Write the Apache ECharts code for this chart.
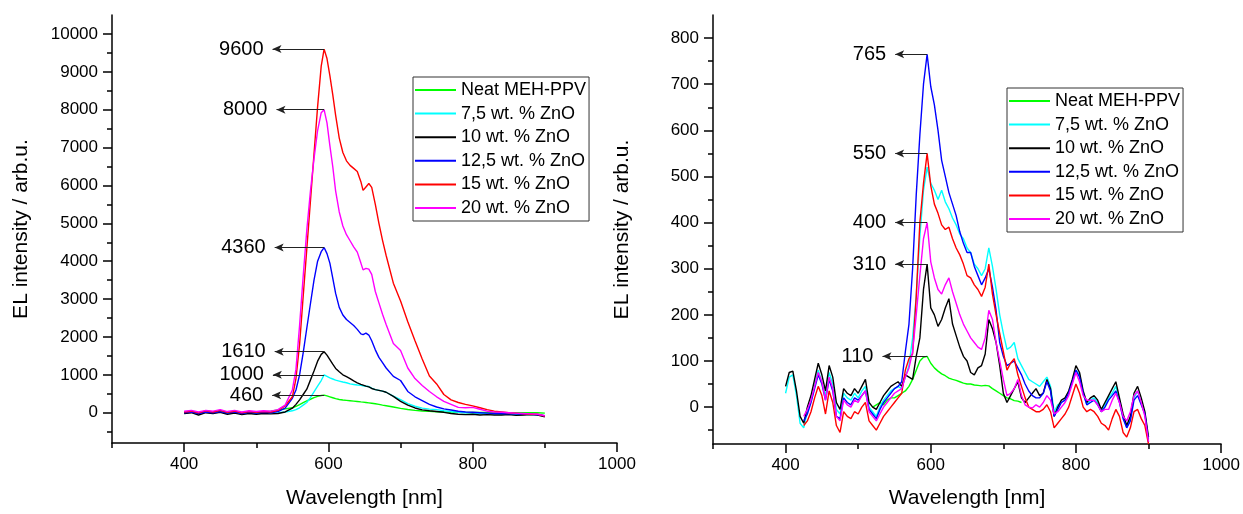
<!DOCTYPE html>
<html>
<head>
<meta charset="utf-8">
<script src="https://cdn.jsdelivr.net/npm/echarts@6/dist/echarts.min.js"></script>
<style>
html,body{margin:0;padding:0;background:#fff;}
#c{width:1243px;height:514px;}
</style>
</head>
<body>
<div id="c"></div>
<script>
// ---------------- DATA ----------------
const SERIES_NAMES = ['Neat MEH-PPV', '7,5 wt. % ZnO', '10 wt. % ZnO', '12,5 wt. % ZnO', '15 wt. % ZnO', '20 wt. % ZnO'];

// Left panel wavelengths (nm)
const L_WL = [400,410,420,430,440,450,460,470,480,490,500,510,520,530,540,550,
  555,560,565,570,575,580,585,590,
  594,598,602,606,610,
  615,620,625,630,635,640,645,
  648,652,656,660,
  665,670,675,680,
  690,700,710,720,730,740,750,760,770,780,790,800,810,820,830,840,850,860,870,880,890,900];

const L_NEAT = [10,30,-10,30,10,40,0,30,-10,20,0,20,40,70,100,130,
  170,215,265,310,355,400,430,455,
  463,445,420,395,370,
  350,335,325,315,305,295,285,
  280,270,260,250,
  235,220,200,185,
  150,115,85,60,45,35,25,20,15,10,5,5,5,5,0,0,0,0,0,0,0,-10];

const L_ZNO75 = [0,20,-30,20,0,30,-20,10,-30,0,-20,0,-10,0,20,50,
  80,130,200,270,400,550,700,850,
  1000,960,920,890,860,
  835,810,790,760,745,730,720,
  710,700,690,650,
  610,590,570,540,
  440,345,240,170,120,95,80,50,30,10,0,-10,-20,-30,-30,-40,-40,-50,-50,-40,-50,-90];

const L_ZNO10 = [-20,0,-60,0,-20,10,-40,-10,-50,-20,-40,-20,-30,-20,20,120,
  220,340,480,620,860,1100,1360,1540,
  1610,1520,1400,1280,1170,
  1080,1000,950,900,840,790,750,
  730,700,680,640,
  610,590,570,540,
  430,300,200,125,75,50,30,10,-20,-40,-50,-40,-60,-50,-60,-60,-50,-70,-60,-50,-60,-110];

const L_ZNO125 = [0,20,-20,20,0,30,-10,20,-20,10,-10,10,0,30,120,380,
  600,1000,1580,2230,2870,3500,4000,4250,
  4360,4200,3950,3550,3150,
  2780,2580,2460,2380,2300,2200,2080,
  2060,2100,2050,1900,
  1660,1460,1320,1180,
  960,850,560,420,320,220,150,100,70,40,20,10,0,-10,-20,-20,-30,-30,-40,-40,-50,-80];

const L_ZNO15 = [20,40,0,50,20,60,10,40,0,30,10,30,20,60,180,420,
  900,1800,3070,4320,5570,6830,8080,9150,
  9600,9350,8900,8400,7850,
  7250,6870,6650,6530,6450,6370,6100,
  5870,5960,6050,5950,
  5500,5000,4550,4150,
  3420,2950,2400,1900,1420,970,760,480,340,270,220,180,130,80,40,20,0,-10,-30,-40,-40,-90];

const L_ZNO20 = [40,60,20,60,40,80,30,60,20,50,30,50,40,80,200,600,
  1150,2300,3600,4820,5840,6710,7450,7920,
  8000,7650,7050,6500,5850,
  5300,4930,4700,4540,4380,4240,3950,
  3770,3810,3790,3650,
  3200,2900,2600,2330,
  1830,1640,1180,900,720,560,420,300,220,140,130,140,90,40,20,10,0,-10,-20,-30,-40,-80];

// Right panel wavelengths (nm)
const R_WL = [400,405,410,415,420,425,430,435,440,445,450,455,460,465,470,475,480,485,490,495,
  500,505,510,515,520,525,530,535,540,545,550,555,560,565,570,575,580,585,590,595,
  600,605,610,615,620,625,630,635,640,645,650,655,660,665,670,675,680,685,690,695,
  700,705,710,715,720,725,730,735,740,745,750,755,760,765,770,775,780,785,790,795,
  800,805,810,815,820,825,830,835,840,845,850,855,860,865,870,875,880,885,890,895,900];

const R_NEAT = [null,null,null,null,null,null,null,null,null,null,null,null,null,null,null,null,null,null,null,null,
  null,null,null,null,0,5,10,5,15,20,20,25,30,35,45,60,80,100,108,110,
  95,85,78,72,68,63,60,58,55,52,50,50,48,47,46,47,46,40,35,30,
  25,20,18,14,13,10,null,null,null,null,null,null,null,null,null,null,null,null,null,null,
  null,null,null,null,null,null,null,null,null,null,null,null,null,null,null,null,null,null,null,null,null];

const R_ZNO75 = [30,65,70,25,-35,-45,-10,15,50,80,55,25,75,50,-5,-15,30,20,15,30,
  20,35,45,0,-10,-20,0,15,25,35,40,45,40,65,90,150,240,370,470,520,
  485,470,450,470,445,430,410,395,375,365,345,335,310,300,285,300,345,305,255,200,
  160,125,130,140,105,90,75,60,55,50,45,55,65,45,-10,5,10,15,30,55,
  80,70,30,5,15,20,10,-10,5,20,30,45,15,-20,-45,-25,20,35,10,-15,-70];

const R_ZNO10 = [45,75,78,35,-20,-35,0,25,60,95,70,35,90,65,10,-5,40,30,25,40,
  30,45,60,10,0,-5,10,25,35,45,50,55,45,70,65,60,110,150,255,310,
  215,200,175,190,215,235,180,155,130,110,100,75,70,85,90,115,190,170,140,90,
  30,10,25,40,55,20,10,20,30,40,25,30,60,40,-20,0,15,20,35,60,
  90,75,35,10,20,25,15,-5,10,25,40,55,20,-15,-40,-20,30,45,20,-10,-65];

const R_ZNO125 = [null,null,null,null,null,-30,-15,10,40,70,50,15,60,35,-20,-25,20,10,5,20,
  15,25,35,-5,-15,-25,-5,10,20,30,40,45,55,120,180,300,460,590,700,765,
  695,655,600,535,500,465,440,415,380,355,335,335,305,285,265,280,300,260,210,140,
  110,90,95,100,85,70,50,35,25,20,20,30,55,35,-20,-5,10,15,30,55,
  80,65,30,5,10,15,5,-10,0,15,25,35,10,-25,-45,-30,15,25,5,-15,-75];

const R_ZNO15 = [null,null,null,null,null,-40,-30,-10,20,45,25,-15,35,10,-40,-55,-10,-20,-25,-10,
  -15,0,10,-30,-40,-50,-35,-20,-10,0,10,20,30,80,105,115,240,400,485,550,
  480,440,420,395,385,390,365,345,330,310,285,280,265,255,240,260,310,245,200,160,
  120,80,95,105,70,45,20,0,-5,-10,-10,-5,5,-10,-45,-35,-25,-15,0,25,
  50,30,0,-10,-5,-10,-20,-35,-40,-50,-25,-5,-20,-55,-65,-45,-10,-5,-25,-40,-80];

const R_ZNO20 = [null,null,null,null,null,-20,-5,15,45,75,55,15,65,40,-20,-30,15,5,0,15,
  10,25,35,-10,-20,-30,-15,0,10,20,30,35,40,65,85,120,200,285,365,400,
  315,280,255,245,265,280,250,225,200,180,165,150,140,130,125,150,210,190,140,100,
  60,25,30,40,60,25,5,0,-2,5,0,10,25,15,-15,-10,0,10,25,50,
  75,55,25,15,15,15,5,-10,-5,-5,15,30,10,-20,-30,-10,25,35,10,-20,-75];

// Axis ticks / labels
const L_Y_LABELS = [0,1000,2000,3000,4000,5000,6000,7000,8000,9000,10000];
const L_Y_MINOR = [-500,500,1500,2500,3500,4500,5500,6500,7500,8500,9500];
const R_Y_LABELS = [0,100,200,300,400,500,600,700,800];
const R_Y_MINOR = [-50,50,150,250,350,450,550,650,750];
const X_LABELS = [400,600,800,1000];
const X_MINOR = [300,500,700,900];

// Peak annotation values (arrow labels)
const L_PEAK_LABELS = [460, 1000, 1610, 4360, 9600, 8000];
const R_PEAK_LABELS = [110, null, 310, 765, 550, 400];

// ---------------- LAYOUT / STYLE ----------------
const FONT = 'Liberation Sans, Arial, sans-serif';
const COLORS = ['#00ff00', '#00ffff', '#000000', '#0000ff', '#ff0000', '#ff00ff'];
const L_TIP = [522, 523, 525.5, 525.5, 522.5, 528];
const R_TIP = [533.5, 551, 551, 551, 551, 551];

function pairs(wl, vals) {
  const out = [];
  for (let i = 0; i < wl.length; i++) {
    if (vals[i] !== null && vals[i] !== undefined) out.push([wl[i], vals[i]]);
  }
  return out;
}
function peakX(wl, vals) {
  let bi = -1;
  for (let i = 0; i < vals.length; i++) {
    if (vals[i] === null) continue;
    if (bi < 0 || vals[i] > vals[bi]) bi = i;
  }
  return wl[bi];
}
function arrowMark(label, px, tipX) {
  if (label === null) return undefined;
  return {
    silent: true,
    animation: false,
    symbol: ['none', 'arrow'],
    symbolSize: [6, 9],
    lineStyle: { color: '#222', width: 1, type: 'solid' },
    label: { show: true, position: 'end', formatter: String(label), fontSize: 20, color: '#000', fontFamily: FONT, distance: 9 },
    emphasis: { disabled: true },
    data: [[{ coord: [px, label] }, { coord: [tipX, label] }]]
  };
}

const L_SETS = [L_NEAT, L_ZNO75, L_ZNO10, L_ZNO125, L_ZNO15, L_ZNO20];
const R_SETS = [R_NEAT, R_ZNO75, R_ZNO10, R_ZNO125, R_ZNO15, R_ZNO20];

const series = [];
L_SETS.forEach((vals, i) => {
  series.push({
    name: SERIES_NAMES[i], type: 'line', xAxisIndex: 0, yAxisIndex: 0,
    data: pairs(L_WL, vals), showSymbol: false, symbol: 'none',
    lineStyle: { color: COLORS[i], width: 1.4 }, itemStyle: { color: COLORS[i] },
    animation: false, silent: true,
    markLine: arrowMark(L_PEAK_LABELS[i], peakX(L_WL, vals), L_TIP[i])
  });
});
R_SETS.forEach((vals, i) => {
  series.push({
    name: SERIES_NAMES[i], type: 'line', xAxisIndex: 2, yAxisIndex: 2,
    data: pairs(R_WL, vals), showSymbol: false, symbol: 'none',
    lineStyle: { color: COLORS[i], width: 1.4 }, itemStyle: { color: COLORS[i] },
    animation: false, silent: true,
    markLine: arrowMark(R_PEAK_LABELS[i], peakX(R_WL, vals), R_TIP[i])
  });
});

const AX_LINE = { show: true, onZero: false, lineStyle: { color: '#000', width: 1.5 } };
const LABEL = { fontSize: 17, color: '#000', fontFamily: FONT, formatter: function (v) { return String(v); } };
const NAME_STYLE = { fontSize: 21, color: '#000', fontFamily: FONT };

function xMain(grid, nameGap) {
  return {
    gridIndex: grid, type: 'value', position: 'bottom', min: 300, max: 1000,
    axisLine: AX_LINE,
    axisTick: { show: true, inside: false, length: 9, lineStyle: { color: '#000', width: 1.5 }, customValues: X_LABELS },
    axisLabel: Object.assign({ margin: 13, customValues: X_LABELS }, LABEL),
    splitLine: { show: false },
    name: 'Wavelength [nm]', nameLocation: 'middle', nameGap: nameGap, nameTextStyle: NAME_STYLE
  };
}
function xMinor(grid) {
  return {
    gridIndex: grid, type: 'value', position: 'bottom', min: 300, max: 1000,
    axisLine: { show: false, onZero: false },
    axisTick: { show: true, inside: false, length: 5, lineStyle: { color: '#000', width: 1.5 }, customValues: X_MINOR },
    axisLabel: { show: false }, splitLine: { show: false }
  };
}
function yMain(grid, min, max, labels) {
  return {
    gridIndex: grid, type: 'value', position: 'left', min: min, max: max,
    axisLine: AX_LINE,
    axisTick: { show: true, inside: false, length: 9, lineStyle: { color: '#000', width: 1.5 }, customValues: labels },
    axisLabel: Object.assign({ margin: 14, customValues: labels }, LABEL),
    splitLine: { show: false },
    name: 'EL intensity / arb.u.', nameLocation: 'middle', nameGap: 80, nameTextStyle: NAME_STYLE
  };
}
function yMinor(grid, min, max, minor) {
  return {
    gridIndex: grid, type: 'value', position: 'left', min: min, max: max,
    axisLine: { show: false, onZero: false },
    axisTick: { show: true, inside: false, length: 5, lineStyle: { color: '#000', width: 1.5 }, customValues: minor },
    axisLabel: { show: false }, splitLine: { show: false }
  };
}

function legendAt(left, top) {
  return {
    left: left, top: top, orient: 'vertical', data: SERIES_NAMES,
    icon: 'rect', itemWidth: 41, itemHeight: 2, itemGap: 3.6,
    padding: [3, 3, 3, 2], borderColor: '#333', borderWidth: 1, backgroundColor: '#fff',
    selectedMode: false,
    textStyle: { fontSize: 18, color: '#000', fontFamily: FONT, lineHeight: 20 }
  };
}

const chart = echarts.init(document.getElementById('c'), null, { renderer: 'canvas' });
chart.setOption({
  backgroundColor: '#fff',
  animation: false,
  textStyle: { fontFamily: FONT },
  grid: [
    { left: 112, top: 15, width: 505, height: 428 },
    { left: 713, top: 15, width: 509, height: 431 }
  ],
  xAxis: [xMain(0, 45), xMinor(0), xMain(1, 44), xMinor(1)],
  yAxis: [
    yMain(0, -800, 10500, L_Y_LABELS), yMinor(0, -800, 10500, L_Y_MINOR),
    yMain(1, -80, 850, R_Y_LABELS), yMinor(1, -80, 850, R_Y_MINOR)
  ],
  legend: [legendAt(413, 77), legendAt(1007, 88)],
  series: series
});
</script>
</body>
</html>
